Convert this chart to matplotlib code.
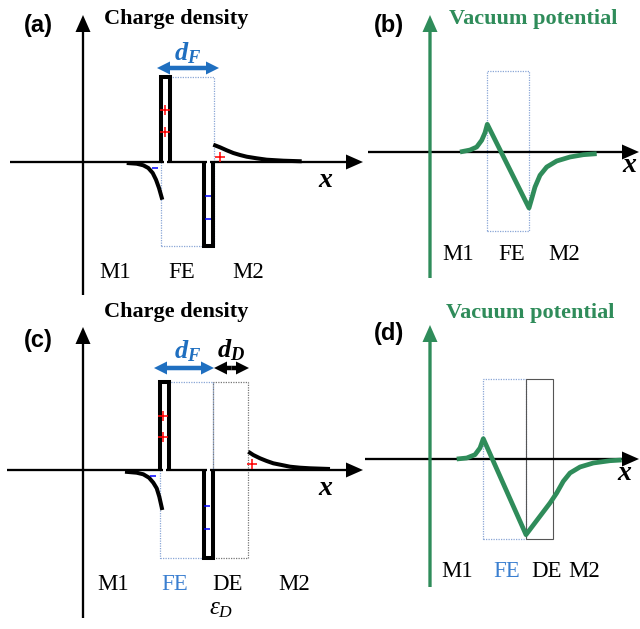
import numpy as np
import matplotlib
matplotlib.use("Agg")
import matplotlib.pyplot as plt
from matplotlib.patches import Rectangle

plt.rcParams["mathtext.fontset"] = "custom"
plt.rcParams["mathtext.rm"] = "Liberation Serif"
plt.rcParams["mathtext.it"] = "Liberation Serif:italic"
plt.rcParams["mathtext.bf"] = "Liberation Serif:italic:bold"

# ---- schematic data (local units, origin where the axes cross, y up) ----
# (a) charge density, M1/FE/M2
a_m1_x = [43.7, 53.7, 60.3, 65.3, 69.7, 73, 76, 79.3]
a_m1_y = [-1, -1.7, -3.3, -6, -11, -17.7, -26, -37.7]
a_m2_x = [130.3, 137, 143.7, 150.3, 157, 163.7, 173.7, 183.7, 200.3, 218.7]
a_m2_y = [17.3, 14.7, 11.7, 9, 7, 5.3, 3.7, 2.3, 1.3, 0.7]
a_pos_bar = [78, 87, 85]      # x left, x right, height
a_neg_bar = [121, 130, -84]
a_fe_box = [78, 131, -84, 85]  # x0, x1, y0, y1

# (b) vacuum potential, M1/FE/M2
b_pot_x = [30, 40, 46.7, 51.7, 55, 57.3, 99, 101.7, 105, 110, 116.7, 126.7, 140, 153.3, 166.7]
b_pot_y = [0, 2, 5, 11.7, 19.3, 27.7, -56, -46.7, -35, -23.3, -15, -9, -5, -2.7, -1.7]
b_fe_box = [57, 99, -79, 81]

# (c) charge density, M1/FE/DE/M2
c_m1_x = [42, 53.7, 60.3, 66, 70.3, 73.7, 76.3, 79.3]
c_m1_y = [-1.7, -2.7, -4.3, -7.7, -12.7, -18.3, -26.7, -40]
c_m2_x = [165.3, 170.3, 177, 183.7, 190.3, 198.7, 207, 217, 227, 247]
c_m2_y = [18.3, 15, 11.7, 9, 6.7, 5, 3.3, 2.3, 1.7, 1]
c_pos_bar = [77, 86, 88]
c_neg_bar = [121, 130, -88]
c_fe_box = [77, 130, -88, 88]
c_de_box = [130, 165, -88, 88]

# (d) vacuum potential, M1/FE/DE/M2
d_pot_x = [26.7, 36.7, 45, 50, 53.3, 96, 120, 126.7, 133.3, 140, 150, 163.3, 180, 191.7]
d_pot_y = [0, 1, 4.3, 11, 20.3, -75.7, -44, -34, -22.3, -14, -8, -4, -1.7, -1]
d_fe_box = [53, 96, -80, 80]
d_de_box = [96, 123, -80, 80]

# region labels and x positions
a_regions = ["M1", "FE", "M2"]
a_region_x = [32, 99, 165]
b_regions = ["M1", "FE", "M2"]
b_region_x = [28, 82, 134]
c_regions = ["M1", "FE", "DE", "M2"]
c_region_x = [30, 92, 145, 211]
d_regions = ["M1", "FE", "DE", "M2"]
d_region_x = [27, 77, 117, 154]

# layout: where each panel's axes cross, in figure pixels
O_A = (83, 162)
O_B = (430, 152)
O_C = (83, 470)
O_D = (430, 459)

GREEN = "#2f8c5a"
BLUE = "#1f6fc0"
FE_BLUE = "#3a7fd0"
BOX_BLUE = "#8aa6d6"
BOX_GRAY = "#777777"
SERIF = "Liberation Serif"

fig = plt.figure(figsize=(6.4, 6.29), dpi=100)
ax = fig.add_axes([0, 0, 1, 1])
ax.set_xlim(0, 640)
ax.set_ylim(629, 0)
ax.axis("off")


def gx(o, x):
    return o[0] + np.asarray(x, dtype=float)


def gy(o, y):
    return o[1] - np.asarray(y, dtype=float)


def arrow(o, x0, y0, x1, y1, color="k", w=2.3, hw=15, hl=17):
    ax.arrow(gx(o, x0), gy(o, y0), gx(o, x1) - gx(o, x0), gy(o, y1) - gy(o, y0),
             width=w, head_width=hw, head_length=hl, length_includes_head=True,
             color=color, lw=0, zorder=3)


def axes_cross(o, xl, xr, yb, yt, ycolor="k", yw=2.3):
    arrow(o, xl, 0, xr, 0)
    arrow(o, 0, yb, 0, yt, color=ycolor, w=yw)


def box(o, b, color, ls=(0, (1, 1)), lw=0.9):
    ax.add_patch(Rectangle((gx(o, b[0]), gy(o, b[2])), b[1] - b[0], -(b[3] - b[2]),
                           fill=False, ec=color, ls=ls, lw=lw, zorder=2))


def bar(o, b):
    xs = [b[0], b[0], b[1], b[1]]
    ys = [0, b[2], b[2], 0]
    ax.plot(gx(o, xs), gy(o, ys), color="k", lw=2.9, solid_joinstyle="miter",
            solid_capstyle="butt", zorder=4)
    # little white gap where the bar meets the axis
    ax.add_patch(Rectangle((gx(o, (b[0] + b[1]) / 2 - 1.5), gy(o, 1.6)), 3, 3.2,
                           fc="white", ec="none", zorder=5))


def curve(o, x, y, color="k", lw=2.9):
    ax.plot(gx(o, x), gy(o, y), color=color, lw=lw, solid_joinstyle="round",
            solid_capstyle="butt", zorder=4)


def marks(o, x, y, m, color, size):
    ax.plot(gx(o, x), gy(o, y), ls="none", marker=m, color=color, ms=size, mew=1.1, zorder=6)


def txt(o, x, y, s, **kw):
    ax.text(gx(o, x), gy(o, y), s, **kw)


def double_arrow(o, x0, x1, y, color):
    mid = (x0 + x1) / 2
    arrow(o, mid, y, x0, y, color=color, w=4.5, hw=13, hl=13)
    arrow(o, mid, y, x1, y, color=color, w=4.5, hw=13, hl=13)


title_kw = dict(family=SERIF, weight="bold", size=16, ha="center", va="baseline")
label_kw = dict(family="Liberation Sans", weight="bold", size=17, ha="center", va="baseline")
region_kw = dict(family=SERIF, size=16.5, ha="center", va="baseline")
xlab_kw = dict(family=SERIF, weight="bold", style="italic", size=20, ha="center", va="baseline")

# ---------- (a) ----------
box(O_A, a_fe_box, BOX_BLUE)
axes_cross(O_A, -73, 280, -133, 147)
bar(O_A, a_pos_bar)
bar(O_A, a_neg_bar)
curve(O_A, a_m1_x, a_m1_y)
curve(O_A, a_m2_x, a_m2_y)
marks(O_A, [82, 82, 137], [52, 30, 5], "+", "red", 7)
marks(O_A, [125, 125, 72], [-34, -57, -6], "_", "blue", 5)
double_arrow(O_A, 74, 136, 94, BLUE)
txt(O_A, 105, 102, r"$\mathbf{d}_{\mathbf{F}}$", color=BLUE, size=19, ha="center", va="baseline")
txt(O_A, -45, 130, "(a)", **label_kw)
txt(O_A, 93, 138, "Charge density", color="k", **title_kw)
txt(O_A, 242, -25, "x", **xlab_kw)
for s, x in zip(a_regions, a_region_x):
    txt(O_A, x, -116, s, color="k", **region_kw)

# ---------- (b) ----------
box(O_B, b_fe_box, BOX_BLUE)
axes_cross(O_B, -62, 209, -126, 137, ycolor=GREEN, yw=3.3)
curve(O_B, b_pot_x, b_pot_y, color=GREEN, lw=3.4)
txt(O_B, -41, 120, "(b)", **label_kw)
txt(O_B, 103, 128, "Vacuum potential", color=GREEN, **title_kw)
txt(O_B, 199, -20, "x", **xlab_kw)
for s, x in zip(b_regions, b_region_x):
    txt(O_B, x, -108, s, color="k", **region_kw)

# ---------- (c) ----------
box(O_C, c_fe_box, BOX_BLUE)
box(O_C, c_de_box, BOX_GRAY)
axes_cross(O_C, -76, 280, -148, 143)
bar(O_C, c_pos_bar)
bar(O_C, c_neg_bar)
curve(O_C, c_m1_x, c_m1_y)
curve(O_C, c_m2_x, c_m2_y)
marks(O_C, [80, 80, 169], [54, 33, 6], "+", "red", 7)
marks(O_C, [124, 124, 70], [-36, -59, -6], "_", "blue", 5)
double_arrow(O_C, 71, 131, 102, BLUE)
double_arrow(O_C, 131, 166, 102, "k")
txt(O_C, 105, 112, r"$\mathbf{d}_{\mathbf{F}}$", color=BLUE, size=19, ha="center", va="baseline")
txt(O_C, 148, 113, r"$\mathbf{d}_{\mathbf{D}}$", color="k", size=19, ha="center", va="baseline")
txt(O_C, -45, 123, "(c)", **label_kw)
txt(O_C, 93, 153, "Charge density", color="k", **title_kw)
txt(O_C, 242, -25, "x", **xlab_kw)
for s, x in zip(c_regions, c_region_x):
    txt(O_C, x, -120, s, color=FE_BLUE if s == "FE" else "k", **region_kw)
txt(O_C, 138, -144, r"$\varepsilon_D$", color="k", size=18, ha="center", va="baseline")

# ---------- (d) ----------
box(O_D, d_fe_box, BOX_BLUE)
box(O_D, d_de_box, "#555555", ls="-", lw=0.8)
axes_cross(O_D, -65, 209, -128, 134, ycolor=GREEN, yw=3.3)
curve(O_D, d_pot_x, d_pot_y, color=GREEN, lw=3.4)
txt(O_D, -41, 119, "(d)", **label_kw)
txt(O_D, 100, 141, "Vacuum potential", color=GREEN, **title_kw)
txt(O_D, 194, -21, "x", **xlab_kw)
for s, x in zip(d_regions, d_region_x):
    txt(O_D, x, -118, s, color=FE_BLUE if s == "FE" else "k", **region_kw)

fig.savefig("out.png", dpi=100)
